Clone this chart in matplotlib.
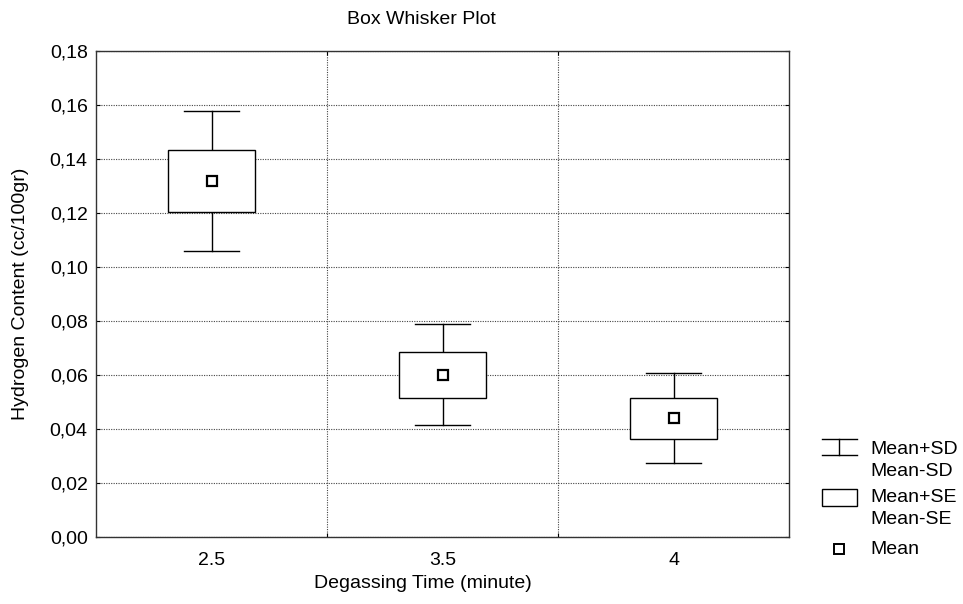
import matplotlib
matplotlib.use("Agg")
import matplotlib.pyplot as plt
from matplotlib.patches import Rectangle
from matplotlib.lines import Line2D
from matplotlib.ticker import FuncFormatter, MultipleLocator

plt.rcParams['font.family'] = ['Liberation Sans', 'DejaVu Sans']

# Degassing time groups and hydrogen content statistics (cc/100gr)
categories = ["2.5", "3.5", "4"]
means = [0.1319, 0.0600, 0.0439]
se_upper = [0.1433, 0.0684, 0.0515]
se_lower = [0.1203, 0.0516, 0.0364]
sd_upper = [0.1578, 0.0788, 0.0606]
sd_lower = [0.1059, 0.0414, 0.0273]

FS = 14
W, H = 963, 604
fig = plt.figure(figsize=(W / 100, H / 100), dpi=100)
ax = fig.add_axes([96 / W, 1 - 537 / H, (789 - 96) / W, (537 - 51) / H])

positions = list(range(1, len(categories) + 1))
box_w = 0.38
cap_w = 0.24

for x, m, su, sl, eu, el in zip(positions, means, sd_upper, sd_lower, se_upper, se_lower):
    # whiskers (mean +/- SD)
    ax.plot([x, x], [eu, su], color='black', lw=1.0, zorder=3)
    ax.plot([x, x], [sl, el], color='black', lw=1.0, zorder=3)
    ax.plot([x - cap_w / 2, x + cap_w / 2], [su, su], color='black', lw=1.0, zorder=3)
    ax.plot([x - cap_w / 2, x + cap_w / 2], [sl, sl], color='black', lw=1.0, zorder=3)
    # box (mean +/- SE)
    ax.add_patch(Rectangle((x - box_w / 2, el), box_w, eu - el, facecolor='white',
                           edgecolor='black', lw=1.0, zorder=3))
    # mean marker
    ax.plot([x], [m], marker='s', markersize=7, markerfacecolor='white',
            markeredgecolor='black', markeredgewidth=1.6, zorder=4)

ax.set_xlim(0.5, len(categories) + 0.5)
ax.set_ylim(0, 0.18)
ax.set_xticks(positions)
ax.set_xticklabels(categories)
ax.set_xticks([p + 0.5 for p in positions[:-1]], minor=True)
ax.yaxis.set_major_locator(MultipleLocator(0.02))
ax.yaxis.set_major_formatter(FuncFormatter(lambda v, _: f"{v:.2f}".replace('.', ',')))

ax.tick_params(axis='x', which='major', length=0, labelsize=FS, pad=11)
ax.tick_params(axis='x', which='minor', direction='in', length=3, top=True, bottom=True, width=0.8)
ax.tick_params(axis='y', which='major', direction='in', length=3, left=True, right=True,
               labelsize=FS, pad=6, width=0.8)

ax.grid(True, which='minor', axis='x', linestyle=(0, (1, 1.2)), color='#444444', lw=0.8)
ax.grid(True, which='major', axis='y', linestyle=(0, (1, 1.2)), color='#444444', lw=0.8)
ax.set_axisbelow(True)
for s in ax.spines.values():
    s.set_linewidth(1.0)
    s.set_color('#333333')

fig.text(421 / W, 1 - 19 / H, "Box Whisker Plot", ha='center', va='center', fontsize=FS)
fig.text(423 / W, 1 - 584 / H, "Degassing Time (minute)", ha='center', va='center', fontsize=FS)
fig.text(21 / W, 1 - 294 / H, "Hydrogen Content (cc/100gr)", ha='center', va='center',
         rotation=90, fontsize=FS)

# legend drawn in figure pixels
def fx(px):
    return px / W

def fy(py):
    return 1 - py / H

fig.add_artist(Line2D([fx(822), fx(857)], [fy(439), fy(439)], color='black', lw=1.0))
fig.add_artist(Line2D([fx(822), fx(857)], [fy(455), fy(455)], color='black', lw=1.0))
fig.add_artist(Line2D([fx(839), fx(839)], [fy(439), fy(455)], color='black', lw=1.0))
fig.add_artist(Rectangle((fx(822), fy(505.5)), fx(857) - fx(822), fy(489) - fy(505.5),
                         facecolor='white', edgecolor='black', lw=1.0))
fig.add_artist(Line2D([fx(839)], [fy(549)], marker='s', markersize=6.5, markerfacecolor='white',
                      markeredgecolor='black', markeredgewidth=1.4, linestyle='none'))

for txt, py in [("Mean+SD", 450), ("Mean-SD", 472), ("Mean+SE", 498), ("Mean-SE", 520), ("Mean", 549)]:
    fig.text(fx(870), fy(py), txt, ha='left', va='center', fontsize=FS)

fig.savefig("out.png", dpi=100)
